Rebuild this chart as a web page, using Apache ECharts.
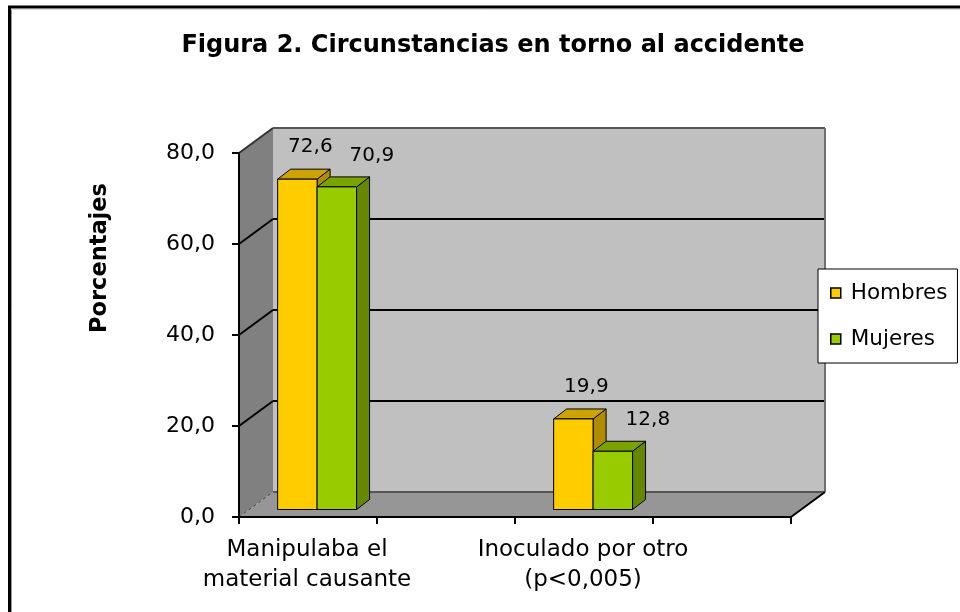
<!DOCTYPE html>
<html>
<head>
<meta charset="utf-8">
<script src="https://cdn.jsdelivr.net/npm/echarts@6/dist/echarts.min.js"></script>
<style>
  html, body { margin: 0; padding: 0; background: #fff; }
  #chart { width: 960px; height: 612px; }
</style>
</head>
<body>
<div id="chart"></div>
<script>
// ---- chart data ----
const chartTitle = 'Figura 2. Circunstancias en torno al accidente';
const axisTitle = 'Porcentajes';
const categories = ['Manipulaba el\nmaterial causante', 'Inoculado por otro\n(p<0,005)'];
const seriesNames = ['Hombres', 'Mujeres'];
const hombres = [72.6, 19.9];
const mujeres = [70.9, 12.8];
const yTicks = [0, 20, 40, 60, 80];

// decimal comma, one decimal place
const fmt = v => Number(v).toFixed(1).replace('.', ',');

// oblique depth of the chart box (side wall, back wall, floor)
const DX = 34, DY = -25;
// depth of each column and lift of its front face above the front floor edge
const BDX = 13, BDY = -10, LIFT = -7.5;

const looks = [
  { front: '#FFCC00', top: '#CCA300', side: '#B08C00', slot: 0, label: [13, -32] },
  { front: '#99CC00', top: '#7AA300', side: '#668800', slot: 1, label: [35, -31] }
];

// side wall, back wall, floor and their gridlines
function renderWalls(params, api) {
  const cs = params.coordSys;
  const x0 = cs.x, x1 = cs.x + cs.width;
  const yAt = v => api.coord([0, v])[1];
  const yT = yAt(yTicks[yTicks.length - 1]);
  const yB = yAt(yTicks[0]);
  const children = [
    { type: 'polygon', shape: { points: [[x0, yT], [x0 + DX, yT + DY], [x0 + DX, yB + DY], [x0, yB]] }, style: { fill: '#808080' } },
    { type: 'rect', shape: { x: x0 + DX, y: yT + DY, width: cs.width, height: yB - yT }, style: { fill: '#C0C0C0' } },
    { type: 'polygon', shape: { points: [[x0, yB], [x0 + DX, yB + DY], [x1 + DX, yB + DY], [x1, yB]] }, style: { fill: '#969696' } }
  ];
  yTicks.forEach((v, i) => {
    const y = yAt(v);
    const last = i === yTicks.length - 1;
    children.push({
      type: 'line',
      shape: { x1: x0 + DX, y1: y + DY, x2: x1 + DX, y2: y + DY },
      style: { stroke: (i === 0 || last) ? '#555' : '#000', lineWidth: 2 }
    });
    children.push({
      type: 'line',
      shape: { x1: x0, y1: y, x2: x0 + DX, y2: y + DY },
      style: i === 0
        ? { stroke: '#444', lineWidth: 1, lineDash: [3, 3] }
        : { stroke: last ? '#333' : '#000', lineWidth: 2 }
    });
  });
  children.push({ type: 'line', shape: { x1: x1 + DX, y1: yT + DY, x2: x1 + DX, y2: yB + DY }, style: { stroke: '#707070', lineWidth: 2 } });
  children.push({ type: 'line', shape: { x1: x1, y1: yB, x2: x1 + DX, y2: yB + DY }, style: { stroke: '#000', lineWidth: 2 } });
  return { type: 'group', children };
}

// one shaded column: side face, top face, front face and value label
function columnRenderer(look) {
  return function (params, api) {
    const idx = api.value(0), v = api.value(1);
    const base = api.coord([idx, 0]);
    const band = api.size([1, 0])[0];
    const w = band * 0.143;
    const xl = base[0] - band * 0.36 + look.slot * w;
    const xr = xl + w;
    const yb = base[1] + LIFT;
    const yt = api.coord([idx, v])[1] + LIFT;
    const edge = { stroke: '#000', lineWidth: 1, lineJoin: 'round' };
    return {
      type: 'group',
      children: [
        { type: 'polygon', shape: { points: [[xr, yt], [xr + BDX, yt + BDY], [xr + BDX, yb + BDY], [xr, yb]] }, style: Object.assign({ fill: look.side }, edge) },
        { type: 'polygon', shape: { points: [[xl, yt], [xl + BDX, yt + BDY], [xr + BDX, yt + BDY], [xr, yt]] }, style: Object.assign({ fill: look.top }, edge) },
        { type: 'rect', shape: { x: xl, y: yt, width: w, height: yb - yt }, style: Object.assign({ fill: look.front }, edge) },
        {
          type: 'text', x: (xl + xr) / 2 + look.label[0], y: yt + look.label[1], z2: 10,
          style: { text: fmt(v), fill: '#000', fontSize: 20, fontFamily: 'DejaVu Sans', align: 'center', verticalAlign: 'middle' }
        }
      ]
    };
  };
}

const seriesValues = [hombres, mujeres];

const chart = echarts.init(document.getElementById('chart'), null, { renderer: 'canvas' });
chart.setOption({
  animation: false,
  backgroundColor: '#fff',
  textStyle: { fontFamily: 'DejaVu Sans' },
  grid: { left: 239, top: 153, width: 552, height: 364, containLabel: false },
  legend: {
    orient: 'vertical', left: 818, top: 269,
    data: seriesNames, icon: 'rect', itemWidth: 10, itemHeight: 10, itemGap: 24,
    padding: [13, 10, 13, 12],
    backgroundColor: '#fff', borderColor: '#000', borderWidth: 1,
    itemStyle: { borderColor: '#000', borderWidth: 1.5 },
    textStyle: { fontFamily: 'DejaVu Sans', fontSize: 21.5, color: '#000', padding: [0, 0, 0, 5] },
    selectedMode: false
  },
  xAxis: [
    {
      type: 'category', data: categories, position: 'bottom', z: 5,
      axisLine: { show: true, lineStyle: { color: '#000', width: 2 } },
      axisTick: { show: true, inside: false, length: 7, lineStyle: { color: '#000', width: 2 } },
      axisLabel: {
        color: '#000', fontFamily: 'DejaVu Sans', fontSize: 23, lineHeight: 30,
        margin: 18, padding: [0, 140, 0, 0], interval: 0
      },
      splitLine: { show: false }
    },
    {
      // extra ticks under each category centre
      type: 'category', data: categories, position: 'bottom', z: 5,
      axisLine: { show: false },
      axisTick: { show: true, inside: false, alignWithLabel: true, length: 7, lineStyle: { color: '#000', width: 2 } },
      axisLabel: { show: false },
      splitLine: { show: false }
    }
  ],
  yAxis: {
    type: 'value', min: 0, max: 80, interval: 20, z: 5,
    axisLine: { show: true, lineStyle: { color: '#000', width: 2 } },
    axisTick: { show: true, length: 7, lineStyle: { color: '#000', width: 2 } },
    axisLabel: { color: '#000', fontFamily: 'DejaVu Sans', fontSize: 22, margin: 24, formatter: v => fmt(v) },
    splitLine: { show: false }
  },
  series: [
    {
      type: 'custom', name: 'walls', z: 1, silent: true,
      renderItem: renderWalls, data: [[0, 0]], encode: { x: 0, y: 1 }
    }
  ].concat(seriesNames.map((name, i) => ({
    type: 'custom', name: name, z: 2 + i,
    itemStyle: { color: looks[i].front, borderColor: '#000', borderWidth: 1 },
    renderItem: columnRenderer(looks[i]),
    data: seriesValues[i].map((v, k) => [k, v]),
    encode: { x: 0, y: 1 }
  }))),
  graphic: [
    { type: 'line', shape: { x1: 8, y1: 7, x2: 960, y2: 7 }, style: { stroke: '#000', lineWidth: 3 } },
    { type: 'line', shape: { x1: 9.5, y1: 6, x2: 9.5, y2: 612 }, style: { stroke: '#000', lineWidth: 3 } },
    { type: 'line', shape: { x1: 11.5, y1: 9, x2: 11.5, y2: 612 }, style: { stroke: '#999', lineWidth: 1 } },
    { type: 'line', shape: { x1: 11, y1: 9.5, x2: 960, y2: 9.5 }, style: { stroke: '#ddd', lineWidth: 1 } },
    {
      type: 'text', x: 493, y: 46,
      style: { text: chartTitle, fill: '#000', fontSize: 24, fontWeight: 'bold', fontFamily: 'DejaVu Sans', align: 'center', verticalAlign: 'middle' }
    },
    {
      type: 'text', x: 100, y: 258, rotation: Math.PI / 2,
      style: { text: axisTitle, fill: '#000', fontSize: 22.5, fontWeight: 'bold', fontFamily: 'DejaVu Sans', align: 'center', verticalAlign: 'middle' }
    }
  ]
});
</script>
</body>
</html>
